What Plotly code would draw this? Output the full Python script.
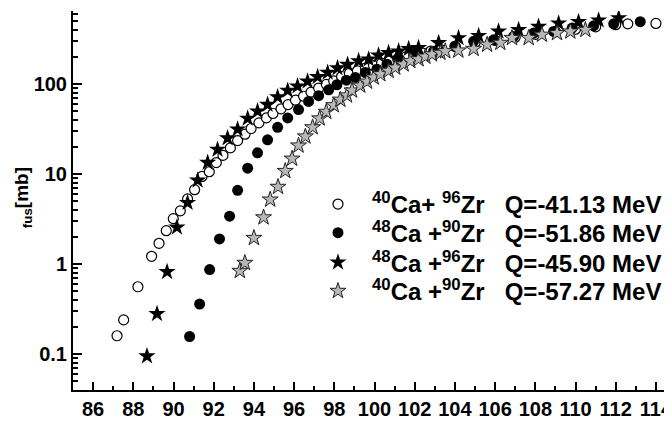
import plotly.graph_objects as go

# 40Ca + 96Zr (open circles)
e_ca40_zr96 = [87.19, 87.52, 88.23, 88.91, 89.28, 89.64, 89.99, 90.34, 90.70, 91.05,
               91.42, 91.78, 92.13, 92.46, 92.83, 93.19, 93.56, 93.86, 94.25, 94.62,
               94.95, 95.35, 95.70, 96.07, 96.47, 96.84, 97.22, 97.60, 97.97, 98.36,
               98.75, 99.15, 99.55, 99.95, 100.35, 100.75, 101.15, 101.55, 101.95, 102.4,
               102.8, 103.3, 104.0, 105.0, 106.0, 107.0, 108.0, 109.0, 110.0, 111.0,
               112.0, 112.6, 114.0]
s_ca40_zr96 = [0.16, 0.24, 0.56, 1.22, 1.7, 2.35, 3.2, 3.9, 5.3, 6.7,
               9.4, 10.6, 13.4, 16.1, 19.5, 23.5, 27.7, 32, 37, 42,
               47, 53, 59, 66, 73, 81, 90, 99, 108, 121,
               131, 140, 150, 160, 170, 180, 190, 200, 210, 220,
               232, 240, 262, 285, 305, 330, 355, 380, 405, 430,
               455, 465, 470]

# 48Ca + 90Zr (filled circles)
e_ca48_zr90 = [90.80, 91.30, 91.80, 92.29, 92.79, 93.19, 93.69, 94.18, 94.68, 95.18,
               95.68, 96.22, 96.72, 97.22, 97.72, 98.13, 98.60, 99.05, 99.54, 100.12,
               100.62, 101.20, 102.11, 102.94, 104.02, 104.93, 105.92, 106.92, 107.92, 108.91,
               109.83, 110.90, 111.90, 113.22]
s_ca48_zr90 = [0.157, 0.36, 0.87, 1.9, 3.4, 6.6, 11.6, 17.2, 24, 33,
               42, 52, 64, 74, 86, 98, 110, 118, 134, 146,
               166, 191, 222, 231, 262, 297, 309, 337, 367, 383,
               417, 442, 465, 491]

# 48Ca + 96Zr (filled stars)
e_ca48_zr96 = [88.68, 89.18, 89.68, 90.17, 90.70, 91.20, 91.70, 92.19, 92.69, 93.19,
               93.69, 94.18, 94.68, 95.18, 95.68, 96.17, 96.67, 97.17, 97.67, 98.16,
               98.66, 99.21, 99.71, 100.20, 100.70, 101.20, 101.70, 102.19, 103.19, 104.18,
               105.18, 106.17, 107.17, 108.16, 109.16, 110.15, 111.15, 112.15]
s_ca48_zr96 = [0.095, 0.28, 0.82, 2.56, 4.8, 8.5, 13.4, 18.7, 25, 31.4,
               41.4, 49.8, 58.9, 71.6, 84.5, 94.4, 107, 120, 134, 150,
               164, 180, 188, 208, 222, 231, 245, 252, 286, 324,
               343, 383, 398, 433, 472, 490, 510, 540]

# 40Ca + 90Zr (open stars)
e_ca40_zr90 = [93.30, 93.55, 94.00, 94.48, 94.81, 95.20, 95.56, 95.90, 96.22, 96.56,
               96.92, 97.27, 97.60, 97.97, 98.30, 98.63, 98.88, 99.29, 99.63, 99.96,
               100.29, 100.70, 101.03, 101.45, 101.78, 102.19, 102.53, 102.86, 103.28, 103.52,
               104.17, 104.93, 105.60, 106.26, 106.84, 107.67, 108.33, 109.08, 109.74, 110.49]
s_ca40_zr90 = [0.84, 1.03, 1.95, 3.3, 5.2, 7.2, 10.8, 14.8, 20.7, 26.1,
               33, 41.4, 49, 58, 66.8, 74.5, 84.5, 95.8, 106, 118,
               128.5, 140, 152, 165, 180, 188, 201, 213, 222, 231,
               235, 245, 273, 286, 324, 324, 352, 367, 382, 398]

names = ["<sup>40</sup>Ca+ <sup>96</sup>Zr   Q=-41.13 MeV",
         "<sup>48</sup>Ca +<sup>90</sup>Zr   Q=-51.86 MeV",
         "<sup>48</sup>Ca +<sup>96</sup>Zr   Q=-45.90 MeV",
         "<sup>40</sup>Ca +<sup>90</sup>Zr   Q=-57.27 MeV"]

x_ticks = list(range(86, 115, 2))
y_ticks = [0.1, 1, 10, 100]
y_ticktext = ["0.1", "1", "10", "100"]
y_minor = [0.04, 0.05, 0.06, 0.07, 0.08, 0.09,
           0.2, 0.3, 0.4, 0.5, 0.6, 0.7, 0.8, 0.9,
           2, 3, 4, 5, 6, 7, 8, 9,
           20, 30, 40, 50, 60, 70, 80, 90,
           200, 300, 400, 500, 600]

FONT = "Liberation Sans"
LEG_FONT = dict(family=FONT, size=24, color="black", weight="bold")

fig = go.Figure()
fig.add_trace(go.Scatter(x=e_ca40_zr96, y=s_ca40_zr96, mode="markers", name=names[0],
                         legend="legend",
                         marker=dict(symbol="circle", size=10, color="white",
                                     line=dict(color="black", width=1.2))))
fig.add_trace(go.Scatter(x=e_ca48_zr90, y=s_ca48_zr90, mode="markers", name=names[1],
                         legend="legend2",
                         marker=dict(symbol="circle", size=11, color="black",
                                     line=dict(color="black", width=0))))
fig.add_trace(go.Scatter(x=e_ca48_zr96, y=s_ca48_zr96, mode="markers", name=names[2],
                         legend="legend3",
                         marker=dict(symbol="star", size=13, color="black",
                                     line=dict(color="black", width=0))))
fig.add_trace(go.Scatter(x=e_ca40_zr90, y=s_ca40_zr90, mode="markers", name=names[3],
                         legend="legend4",
                         marker=dict(symbol="star", size=12, color="#b8b8b8",
                                     line=dict(color="#222222", width=1))))

def leg(yc):
    return dict(x=0.3856, y=yc, xanchor="left", yanchor="middle",
                bgcolor="rgba(0,0,0,0)", borderwidth=0,
                font=LEG_FONT, itemwidth=58, tracegroupgap=0)

fig.update_layout(
    width=670, height=415,
    margin=dict(l=65, r=6, t=3, b=28),
    paper_bgcolor="white", plot_bgcolor="white",
    font=dict(family=FONT, color="black"),
    showlegend=True,
    legend=leg(0.4896), legend2=leg(0.4141), legend3=leg(0.3359), legend4=leg(0.2604),
    xaxis=dict(range=[85, 114.8], tickmode="array", tickvals=x_ticks,
               ticks="inside", ticklen=8, tickwidth=1.5, tickcolor="black",
               showline=True, linecolor="black", linewidth=2, mirror=False,
               showgrid=False, zeroline=False,
               tickfont=dict(family=FONT, size=20, color="black", weight="bold"),
               minor=dict(dtick=1, tick0=85, ticks="inside", ticklen=4,
                          tickwidth=1.5, tickcolor="black", showgrid=False)),
    yaxis=dict(type="log", range=[-1.398, 2.81], tickmode="array",
               tickvals=y_ticks, ticktext=y_ticktext,
               ticks="inside", ticklen=9, tickwidth=1.5, tickcolor="black",
               showline=True, linecolor="black", linewidth=2, mirror=False,
               showgrid=False, zeroline=False,
               tickfont=dict(family=FONT, size=20, color="black", weight="bold"),
               minor=dict(tickmode="array", tickvals=y_minor, ticks="inside",
                          ticklen=5, tickwidth=1.5, tickcolor="black", showgrid=False)),
    annotations=[dict(text="<sub>fus</sub>[mb]", textangle=-90,
                      xref="paper", yref="paper", x=-0.083, y=0.507,
                      xanchor="center", yanchor="middle", showarrow=False,
                      font=dict(family=FONT, size=19, color="black", weight="bold"))],
)

fig.write_html("out.html")
